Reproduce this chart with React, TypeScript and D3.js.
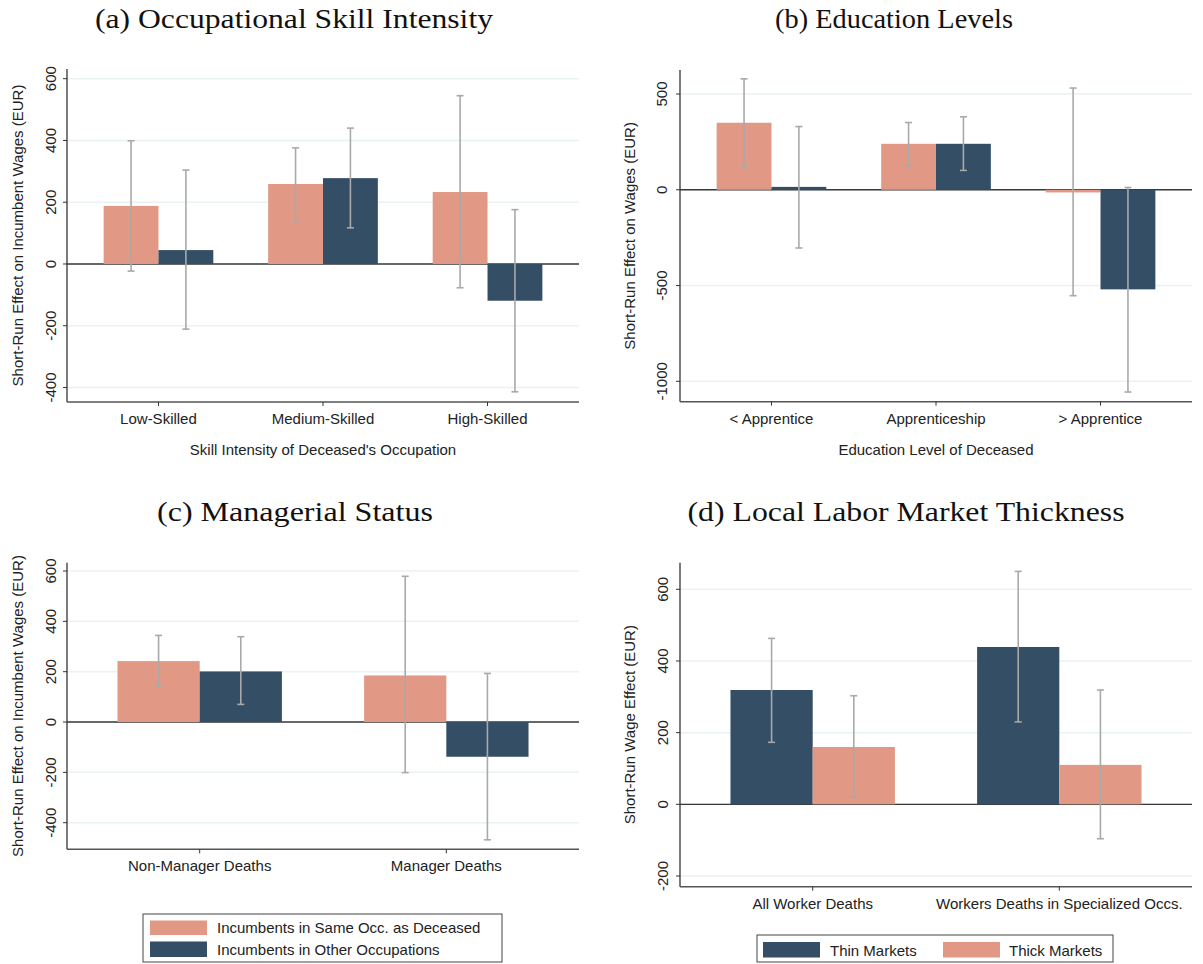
import React, { useEffect } from 'react';
import * as d3 from 'd3';

// panel (a) skill intensity
const skillCats = ['Low-Skilled', 'Medium-Skilled', 'High-Skilled'];
const skillSame = [188, 259, 233];
const skillSameLo = [-23, 137, -77];
const skillSameHi = [399, 376, 545];
const skillOther = [45, 278, -119];
const skillOtherLo = [-211, 117, -414];
const skillOtherHi = [304, 440, 176];
const skillTicks = [-400, -200, 0, 200, 400, 600];

// panel (b) education
const eduCats = ['< Apprentice', 'Apprenticeship', '> Apprentice'];
const eduSame = [350, 240, -14];
const eduSameLo = [120, 124, -553];
const eduSameHi = [579, 351, 531];
const eduOther = [15, 240, -520];
const eduOtherLo = [-304, 101, -1056];
const eduOtherHi = [330, 381, 12];
const eduTicks = [-1000, -500, 0, 500];

// panel (c) managerial status
const mgrCats = ['Non-Manager Deaths', 'Manager Deaths'];
const mgrSame = [242, 185];
const mgrSameLo = [142, -201];
const mgrSameHi = [344, 579];
const mgrOther = [201, -138];
const mgrOtherLo = [70, -468];
const mgrOtherHi = [339, 193];
const mgrTicks = [-400, -200, 0, 200, 400, 600];

// panel (d) market thickness
const mktCats = ['All Worker Deaths', 'Workers Deaths in Specialized Occs.'];
const thin = [319, 439];
const thinLo = [173, 230];
const thinHi = [463, 650];
const thick = [160, 110];
const thickLo = [20, -96];
const thickHi = [303, 319];
const mktTicks = [-200, 0, 200, 400, 600];

const PINK = '#e19985';
const NAVY = '#344e65';
const CI = '#a9a9a9';
const GRID = '#eaf1f2';
const SANS = '"Liberation Sans", Arial, sans-serif';
const SERIF = '"Liberation Serif", "Times New Roman", serif';

interface Series {
  color: string;
  values: number[];
  lo: number[];
  hi: number[];
}

interface PanelProps {
  title: string;
  titleX: number;
  titleY: number;
  titleW: number; // stretch serif title to the width of the original LaTeX font
  cats: string[];
  series: Series[];
  ticks: number[];
  x0: number;
  x1: number;
  top: number;
  bottom: number;
  yPix: [number, number]; // pixel of first and last tick
  pad: number;
  yLabel: string;
  yLabelX: number;
  tickLabelX: number;
  xTitle?: string;
}

const Panel: React.FC<PanelProps> = (p) => {
  const y = d3.scaleLinear()
    .domain([p.ticks[0], p.ticks[p.ticks.length - 1]])
    .range(p.yPix);
  const x = d3.scalePoint<string>().domain(p.cats).range([p.x0, p.x1]).padding(p.pad);
  const bw = x.step() / 3;
  const n = p.series.length;

  return (
    <g>
      <text
        x={p.titleX - p.titleW / 2}
        y={p.titleY}
        textLength={p.titleW}
        lengthAdjust="spacingAndGlyphs"
        fontFamily={SERIF}
        fontSize={27}
        fill="#111"
      >
        {p.title}
      </text>
      {p.ticks.map(t => (
        <line key={'g' + t} x1={p.x0} x2={p.x1} y1={y(t)} y2={y(t)} stroke={GRID} strokeWidth={1.5} />
      ))}
      {/* zero line */}
      <line x1={p.x0} x2={p.x1} y1={y(0)} y2={y(0)} stroke="#3a3a3a" strokeWidth={1.3} />
      {p.cats.map((c, i) => (
        <g key={c}>
          {p.series.map((s, j) => {
            const bx = (x(c) as number) - (n * bw) / 2 + j * bw;
            const v = s.values[i];
            return (
              <rect key={j} x={bx} width={bw} y={Math.min(y(v), y(0))} height={Math.abs(y(v) - y(0))} fill={s.color} />
            );
          })}
          {p.series.map((s, j) => {
            const cx = (x(c) as number) - (n * bw) / 2 + (j + 0.5) * bw;
            return (
              <g key={'e' + j} stroke={CI} strokeWidth={1.6}>
                <line x1={cx} x2={cx} y1={y(s.hi[i])} y2={y(s.lo[i])} />
                <line x1={cx - 3.5} x2={cx + 3.5} y1={y(s.hi[i])} y2={y(s.hi[i])} />
                <line x1={cx - 3.5} x2={cx + 3.5} y1={y(s.lo[i])} y2={y(s.lo[i])} />
              </g>
            );
          })}
        </g>
      ))}
      {/* axes */}
      <line x1={p.x0} x2={p.x0} y1={p.top} y2={p.bottom} stroke="#333" strokeWidth={1.3} />
      <line x1={p.x0} x2={p.x1} y1={p.bottom} y2={p.bottom} stroke="#555" strokeWidth={1.6} />
      {p.ticks.map(t => (
        <g key={'t' + t}>
          <line x1={p.x0 - 4} x2={p.x0} y1={y(t)} y2={y(t)} stroke="#333" strokeWidth={1} />
          <text
            transform={`translate(${p.tickLabelX},${y(t)}) rotate(-90)`}
            textAnchor="middle"
            fontFamily={SANS}
            fontSize={15}
            fill="#222"
          >
            {t}
          </text>
        </g>
      ))}
      {p.cats.map(c => (
        <g key={'x' + c}>
          <line x1={x(c)} x2={x(c)} y1={p.bottom} y2={p.bottom + 4} stroke="#333" strokeWidth={1} />
          <text x={x(c)} y={p.bottom + 22} textAnchor="middle" fontFamily={SANS} fontSize={15} fill="#222">
            {c}
          </text>
        </g>
      ))}
      <text
        transform={`translate(${p.yLabelX},${(p.top + p.bottom) / 2}) rotate(-90)`}
        textAnchor="middle"
        fontFamily={SANS}
        fontSize={15}
        fill="#222"
      >
        {p.yLabel}
      </text>
      {p.xTitle && (
        <text x={(p.x0 + p.x1) / 2} y={p.bottom + 53} textAnchor="middle" fontFamily={SANS} fontSize={15} fill="#222">
          {p.xTitle}
        </text>
      )}
    </g>
  );
};

const App: React.FC = () => {
  useEffect(() => {
    document.body.style.margin = '0';
  }, []);

  const sameOther = (v1: number[], l1: number[], h1: number[], v2: number[], l2: number[], h2: number[]): Series[] => [
    { color: PINK, values: v1, lo: l1, hi: h1 },
    { color: NAVY, values: v2, lo: l2, hi: h2 },
  ];

  return (
    <svg width={1203} height={964} style={{ display: 'block', background: '#fff' }}>
      <Panel
        title="(a) Occupational Skill Intensity"
        titleX={294}
        titleY={28}
        titleW={398}
        cats={skillCats}
        series={sameOther(skillSame, skillSameLo, skillSameHi, skillOther, skillOtherLo, skillOtherHi)}
        ticks={skillTicks}
        x0={67}
        x1={579}
        top={69}
        bottom={402}
        yPix={[387.5, 78.7]}
        pad={0.556}
        yLabel="Short-Run Effect on Incumbent Wages (EUR)"
        yLabelX={23}
        tickLabelX={56}
        xTitle="Skill Intensity of Deceased's Occupation"
      />
      <Panel
        title="(b) Education Levels"
        titleX={894}
        titleY={28}
        titleW={238}
        cats={eduCats}
        series={sameOther(eduSame, eduSameLo, eduSameHi, eduOther, eduOtherLo, eduOtherHi)}
        ticks={eduTicks}
        x0={680}
        x1={1192}
        top={70}
        bottom={401.7}
        yPix={[381.3, 94]}
        pad={0.556}
        yLabel="Short-Run Effect on Wages (EUR)"
        yLabelX={635}
        tickLabelX={667}
        xTitle="Education Level of Deceased"
      />
      <Panel
        title="(c) Managerial Status"
        titleX={295}
        titleY={521}
        titleW={276}
        cats={mgrCats}
        series={sameOther(mgrSame, mgrSameLo, mgrSameHi, mgrOther, mgrOtherLo, mgrOtherHi)}
        ticks={mgrTicks}
        x0={67}
        x1={579}
        top={562.7}
        bottom={849.3}
        yPix={[822.7, 571]}
        pad={0.538}
        yLabel="Short-Run Effect on Incumbent Wages (EUR)"
        yLabelX={23}
        tickLabelX={56}
      />
      <Panel
        title="(d) Local Labor Market Thickness"
        titleX={906}
        titleY={521}
        titleW={437}
        cats={mktCats}
        series={[
          { color: NAVY, values: thin, lo: thinLo, hi: thinHi },
          { color: PINK, values: thick, lo: thickLo, hi: thickHi },
        ]}
        ticks={mktTicks}
        x0={680}
        x1={1192}
        top={562.7}
        bottom={886.7}
        yPix={[876, 589.3]}
        pad={0.538}
        yLabel="Short-Run Wage Effect (EUR)"
        yLabelX={635}
        tickLabelX={668}
      />

      {/* legend (c) */}
      <g fontFamily={SANS} fontSize={15} fill="#222">
        <rect x={143} y={914} width={359} height={48} fill="#fff" stroke="#444" strokeWidth={1} />
        <rect x={150} y={920.5} width={57} height={14.5} fill={PINK} />
        <rect x={150} y={941.5} width={57} height={15.5} fill={NAVY} />
        <text x={217} y={933}>Incumbents in Same Occ. as Deceased</text>
        <text x={217} y={954.5}>Incumbents in Other Occupations</text>
      </g>

      {/* legend (d) */}
      <g fontFamily={SANS} fontSize={15} fill="#222">
        <rect x={757} y={935} width={356} height={27} fill="#fff" stroke="#444" strokeWidth={1} />
        <rect x={763} y={942} width={57} height={15.5} fill={NAVY} />
        <text x={830} y={955.5}>Thin Markets</text>
        <rect x={943} y={942} width={57} height={15.5} fill={PINK} />
        <text x={1009} y={955.5}>Thick Markets</text>
      </g>
    </svg>
  );
};

export default App;
